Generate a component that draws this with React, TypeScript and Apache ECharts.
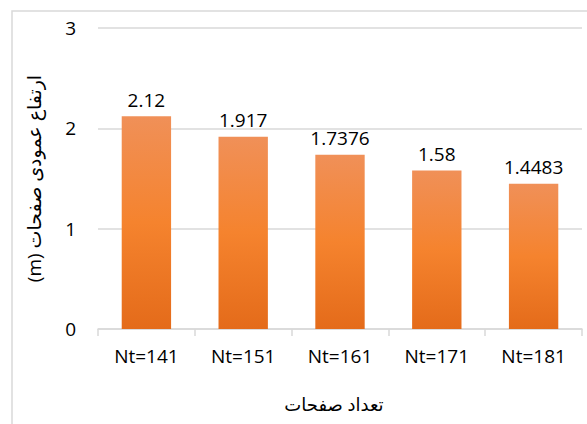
import React, { useEffect, useRef } from "react";
import * as echarts from "echarts";

const categories = ["Nt=141", "Nt=151", "Nt=161", "Nt=171", "Nt=181"];
const values = [2.12, 1.917, 1.7376, 1.58, 1.4483];
const xTitle = "تعداد صفحات";
const yTitle = "ارتفاع عمودی صفحات (m)";

const FONT = "'Open Sans', 'DejaVu Sans', sans-serif";

export default function App() {
  const ref = useRef<HTMLDivElement>(null);
  useEffect(() => {
    if (!ref.current) return;
    const chart = echarts.init(ref.current, null, { renderer: "svg" });
    chart.setOption({
      animation: false,
      backgroundColor: "#ffffff",
      graphic: [
        {
          type: "rect",
          shape: { x: 12, y: 11, width: 700, height: 600 },
          style: { fill: "none", stroke: "#D9D9D9", lineWidth: 1.5 },
          silent: true,
          z: -10,
        },
      ],
      grid: { left: 98, right: 5, top: 28, bottom: 95, containLabel: false },
      xAxis: {
        type: "category",
        data: categories,
        name: xTitle,
        nameLocation: "middle",
        nameGap: 66,
        nameTextStyle: { fontFamily: FONT, fontSize: 18, color: "#000", padding: [0, 12, 0, 0] },
        axisLine: { lineStyle: { color: "#D9D9D9", width: 1.5 } },
        axisTick: { show: true, length: 7, lineStyle: { color: "#D9D9D9", width: 1.5 } },
        axisLabel: { fontFamily: FONT, fontSize: 19, color: "#000", margin: 17 },
      },
      yAxis: {
        type: "value",
        min: 0,
        max: 3,
        interval: 1,
        name: "\u202B" + yTitle + "\u202C",
        nameLocation: "middle",
        nameGap: 55,
        nameRotate: 90,
        nameTextStyle: { fontFamily: FONT, fontSize: 19, color: "#000" },
        axisLine: { show: false },
        axisTick: { show: false },
        axisLabel: { fontFamily: FONT, fontSize: 19, color: "#000", margin: 22 },
        splitLine: { lineStyle: { color: "#D9D9D9", width: 1.5 } },
      },
      series: [
        {
          type: "bar",
          data: values,
          barWidth: "51%",
          itemStyle: {
            color: new echarts.graphic.LinearGradient(0, 0, 0, 1, [
              { offset: 0, color: "#F09058" },
              { offset: 0.5, color: "#F5832E" },
              { offset: 1, color: "#E46B1A" },
            ]),
          },
          label: {
            show: true,
            position: "top",
            distance: 7,
            fontFamily: FONT,
            fontSize: 19,
            color: "#000",
            formatter: (p: any) => String(values[p.dataIndex]),
          },
        },
      ],
    });
    return () => chart.dispose();
  }, []);
  return (
    <div
      ref={ref}
      style={{ position: "fixed", left: 0, top: 0, width: 587, height: 424 }}
    />
  );
}
